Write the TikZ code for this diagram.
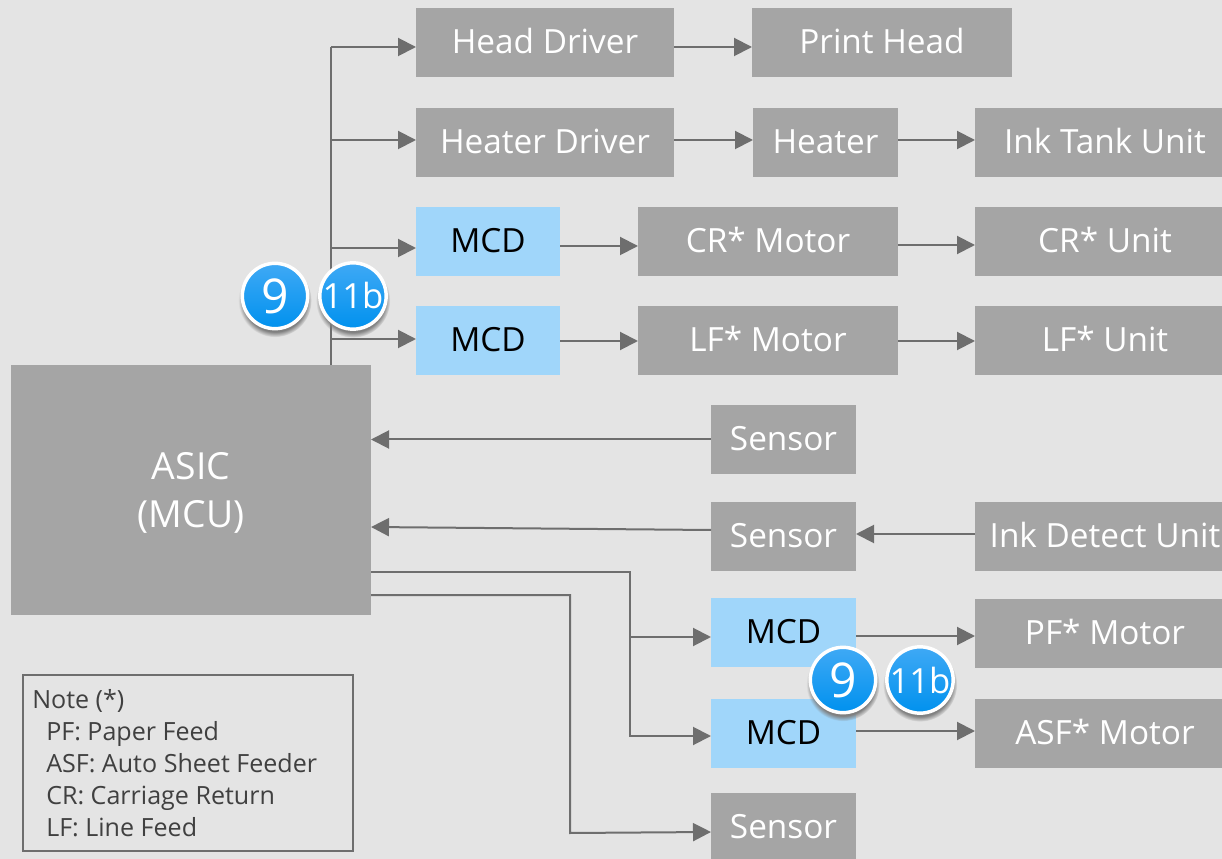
\documentclass[tikz,border=0pt]{standalone}
\usepackage{fontspec}
\setmainfont{Open Sans}
\usetikzlibrary{arrows.meta,shadows}

\definecolor{pagegray}{HTML}{E4E4E4}
\definecolor{boxgray}{HTML}{A5A5A5}
\definecolor{mcdblue}{HTML}{A0D6FA}
\definecolor{linegray}{HTML}{6E6E6E}
\definecolor{badgetop}{HTML}{3FA9F5}
\definecolor{badgelow}{HTML}{0091EE}

\tikzset{
    blockbox/.style={fill=boxgray, text=white, outer sep=0pt, inner sep=0pt,
	minimum height=51.75pt, font=\fontsize{25}{30}\selectfont,
	text height=20pt, text depth=4pt},
    mcdbox/.style={blockbox, fill=mcdblue, text=black, minimum width=108pt},
    shortbox/.style={blockbox, minimum width=108.75pt},
    longbox/.style={blockbox, minimum width=195pt},
    drvbox/.style={blockbox, minimum width=193.5pt},
    link/.style={draw=linegray, line width=1.5pt,
	-{Triangle[length=13.5pt, width=13.5pt]}},
    busline/.style={draw=linegray, line width=1.5pt},
    badge/.style={circle, draw=white, line width=2.6pt, minimum size=49pt,
	inner sep=0pt, text=white, top color=badgetop, bottom color=badgelow,
	circular drop shadow={shadow xshift=0pt, shadow yshift=-3pt, shadow scale=1.12},
	font=\fontsize{36}{40}\selectfont},
    badgesmall/.style={badge, font=\fontsize{26}{30}\selectfont},
}

\begin{document}
\begin{tikzpicture}[x=0.75pt, y=-0.75pt]
    \useasboundingbox (0, 0) rectangle (1222, 859);
    \fill[pagegray] (0, 0) rectangle (1222, 859);

    % top rows
    \node[drvbox] (headdriver) at (545, 43) {Head Driver};
    \node[longbox] (printhead) at (882, 43) {Print Head};
    \node[drvbox] (heaterdriver) at (545, 142.5) {Heater Driver};
    \node[shortbox] (heater) at (825.5, 142.5) {Heater};
    \node[longbox] (inktank) at (1105, 142.5) {Ink Tank Unit};
    \node[mcdbox] (mcdcr) at (488, 241.5) {MCD};
    \node[longbox] (crmotor) at (768, 241.5) {CR* Motor};
    \node[longbox] (crunit) at (1105, 241.5) {CR* Unit};
    \node[mcdbox] (mcdlf) at (488, 341) {MCD};
    \node[longbox] (lfmotor) at (768, 341) {LF* Motor};
    \node[longbox] (lfunit) at (1105, 341) {LF* Unit};

    \node[blockbox, minimum width=270pt, minimum height=187.5pt, text height=,
	text depth=, align=center, font=\fontsize{28}{36}\selectfont]
	(asic) at (191, 490) {\rule{0pt}{24pt}ASIC\\(MCU)};

    % lower rows
    \node[shortbox] (sensora) at (783.5, 439.5) {Sensor};
    \node[shortbox] (sensorb) at (783.5, 536.5) {Sensor};
    \node[longbox] (inkdetect) at (1105, 536.5) {Ink Detect Unit};
    \node[mcdbox, minimum width=108.75pt] (mcdpf) at (783.5, 632.5) {MCD};
    \node[longbox] (pfmotor) at (1105, 633.5) {PF* Motor};
    \node[mcdbox, minimum width=108.75pt] (mcdasf) at (783.5, 733.5) {MCD};
    \node[longbox] (asfmotor) at (1105, 733.5) {ASF* Motor};
    \node[shortbox] (sensorc) at (783.5, 827.5) {Sensor};

    % note
    \node[draw=linegray, line width=1.2pt, outer sep=0pt, inner sep=0pt,
	minimum width=247.5pt, minimum height=132pt, anchor=north west]
	(note) at (23, 675) {};
    \node[anchor=north west, inner sep=0pt, align=left, text=black!75,
	font=\fontsize{18.8}{24}\selectfont] (notetext) at (32, 689)
	{Note (*)\\
	\hspace*{10.5pt}PF: Paper Feed\\
	\hspace*{10.5pt}ASF: Auto Sheet Feeder\\
	\hspace*{10.5pt}CR: Carriage Return\\
	\hspace*{10.5pt}LF: Line Feed};

    % bus on top of the asic
    \coordinate (busfoot) at (331, 365);
    \coordinate (bustop) at (331, 47);
    \coordinate (busb) at (331, 140);
    \coordinate (busc) at (331, 248);
    \coordinate (busd) at (331, 339);
    \draw[busline] (busfoot) -- (bustop);
    \draw[link] (bustop) -- (headdriver.west |- bustop);
    \draw[link] (busb) -- (heaterdriver.west |- busb);
    \draw[link] (busc) -- (mcdcr.west |- busc);
    \draw[link] (busd) -- (mcdlf.west |- busd);

    % rows to the right
    \draw[link] (headdriver.east |- bustop) -- (printhead.west |- bustop);
    \draw[link] (heaterdriver.east |- busb) -- (heater.west |- busb);
    \draw[link] (heater.east |- busb) -- (inktank.west |- busb);
    \draw[link] (mcdcr.east |- 0, 246) -- (crmotor.west |- 0, 246);
    \draw[link] (crmotor.east |- 0, 245) -- (crunit.west |- 0, 245);
    \draw[link] (mcdlf.east) -- (lfmotor.west);
    \draw[link] (lfmotor.east) -- (lfunit.west);

    % back to the asic
    \draw[link] (sensora.west) -- (asic.east |- sensora.west);
    \draw[link] (sensorb.west |- 0, 530) -- (asic.east |- 0, 527);
    \draw[link] (inkdetect.west |- 0, 534) -- (sensorb.east |- 0, 534);

    % lower outputs
    \coordinate (turna) at (630, 572);
    \coordinate (turnb) at (570, 595);
    \draw[link] (asic.east |- turna) -- (turna) -- (630, 637) -- (mcdpf.west |- 0, 637);
    \draw[link] (630, 637) -- (630, 736) -- (mcdasf.west |- 0, 736);
    \draw[link] (asic.east |- turnb) -- (turnb) -- (570, 833) -- (sensorc.west |- 0, 832);
    \draw[link] (mcdpf.east |- 0, 636) -- (pfmotor.west |- 0, 636);
    \draw[link] (mcdasf.east |- 0, 731) -- (asfmotor.west |- 0, 731);

    % badges
    \node[badge] (badgenine) at (275, 296) {9};
    \node[badgesmall] (badgeeleven) at (353, 296) {11b};
    \node[badge] (badgeninelow) at (843, 680) {9};
    \node[badgesmall] (badgeelevenlow) at (920, 680) {11b};
\end{tikzpicture}
\end{document}
